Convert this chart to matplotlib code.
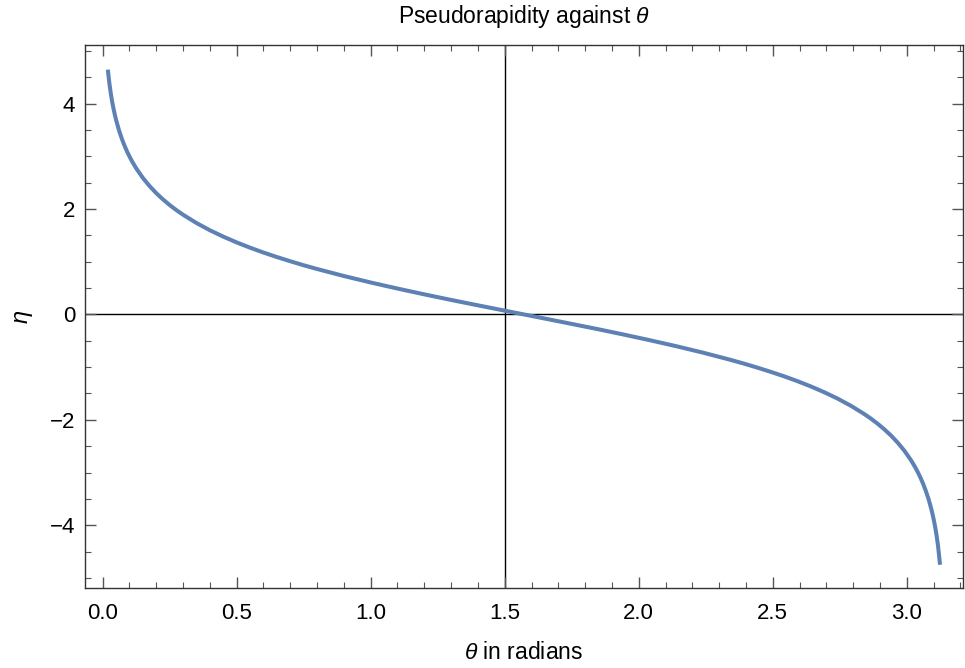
import matplotlib
matplotlib.use("Agg")
import matplotlib.pyplot as plt
from matplotlib.ticker import MultipleLocator

plt.rcParams['font.family'] = ['Liberation Sans', 'DejaVu Sans']
plt.rcParams['mathtext.fontset'] = 'custom'
plt.rcParams['mathtext.rm'] = 'Liberation Sans'
plt.rcParams['mathtext.it'] = 'Liberation Sans:italic'

# theta (radians) and pseudorapidity eta
theta = [0.02, 0.025, 0.03, 0.035, 0.04, 0.045, 0.05, 0.06, 0.07, 0.08,
         0.09, 0.1, 0.11, 0.125, 0.15, 0.175, 0.2, 0.225, 0.25, 0.275,
         0.3, 0.35, 0.4, 0.45, 0.5, 0.55, 0.6, 0.65, 0.7, 0.75,
         0.8, 0.9, 1.0, 1.1, 1.2, 1.3, 1.4, 1.5, 1.5708,
         1.6416, 1.7416, 1.8416, 1.9416, 2.0416, 2.1416, 2.2416, 2.3416,
         2.3916, 2.4416, 2.4916, 2.5416, 2.5916, 2.6416, 2.6916, 2.7416,
         2.7916, 2.8416, 2.8666, 2.8916, 2.9166, 2.9416, 2.9666, 2.9916,
         3.0166, 3.0316, 3.0416, 3.0516, 3.0616, 3.0716, 3.0816, 3.0916,
         3.0966, 3.1016, 3.1066, 3.1116, 3.1166, 3.1236]
eta = [4.605, 4.382, 4.200, 4.045, 3.912, 3.794, 3.689, 3.506, 3.352, 3.218,
       3.100, 2.995, 2.899, 2.771, 2.588, 2.434, 2.299, 2.181, 2.074, 1.978,
       1.890, 1.733, 1.596, 1.475, 1.365, 1.265, 1.173, 1.088, 1.008, 0.932,
       0.861, 0.728, 0.605, 0.490, 0.380, 0.274, 0.172, 0.071, 0.0,
       -0.071, -0.172, -0.274, -0.380, -0.490, -0.605, -0.728, -0.861,
       -0.932, -1.008, -1.088, -1.173, -1.265, -1.365, -1.475, -1.596,
       -1.733, -1.890, -1.978, -2.074, -2.181, -2.299, -2.434, -2.588,
       -2.771, -2.899, -2.995, -3.100, -3.218, -3.352, -3.506, -3.689,
       -3.794, -3.912, -4.045, -4.200, -4.382, -4.711]

fig = plt.figure(figsize=(9.65, 6.68), dpi=100)
ax = fig.add_axes([85 / 965, 1 - 588 / 668, (963 - 85) / 965, (588 - 45) / 668])

ax.axhline(0, color='black', lw=1.0, zorder=1)
ax.axvline(1.5, color='black', lw=1.0, zorder=1)
ax.plot(theta, eta, color='#5E81B5', lw=2.9, zorder=3, solid_joinstyle='round')

ax.set_xlim(-0.066, 3.21)
ax.set_ylim(-5.19, 5.11)
ax.xaxis.set_major_locator(MultipleLocator(0.5))
ax.xaxis.set_minor_locator(MultipleLocator(0.1))
ax.yaxis.set_major_locator(MultipleLocator(2))
ax.yaxis.set_minor_locator(MultipleLocator(0.5))
ax.xaxis.set_major_formatter(matplotlib.ticker.FormatStrFormatter('%.1f'))

ax.tick_params(which='both', direction='in', top=True, right=True,
               color='#555555', labelsize=16)
ax.tick_params(which='major', length=8, width=1)
ax.tick_params(which='minor', length=4.5, width=0.8)
ax.tick_params(axis='x', which='major', pad=11)
ax.tick_params(axis='y', which='major', pad=7)
for s in ax.spines.values():
    s.set_color('#333333')
    s.set_linewidth(1.0)

ax.set_title(r'Pseudorapidity against $\theta$', fontsize=16.5, pad=16)
ax.set_xlabel(r'$\theta$ in radians', fontsize=16.5, labelpad=12)
ax.set_ylabel(r'$\eta$', fontsize=17, labelpad=11)

fig.savefig('out.png', dpi=100)
